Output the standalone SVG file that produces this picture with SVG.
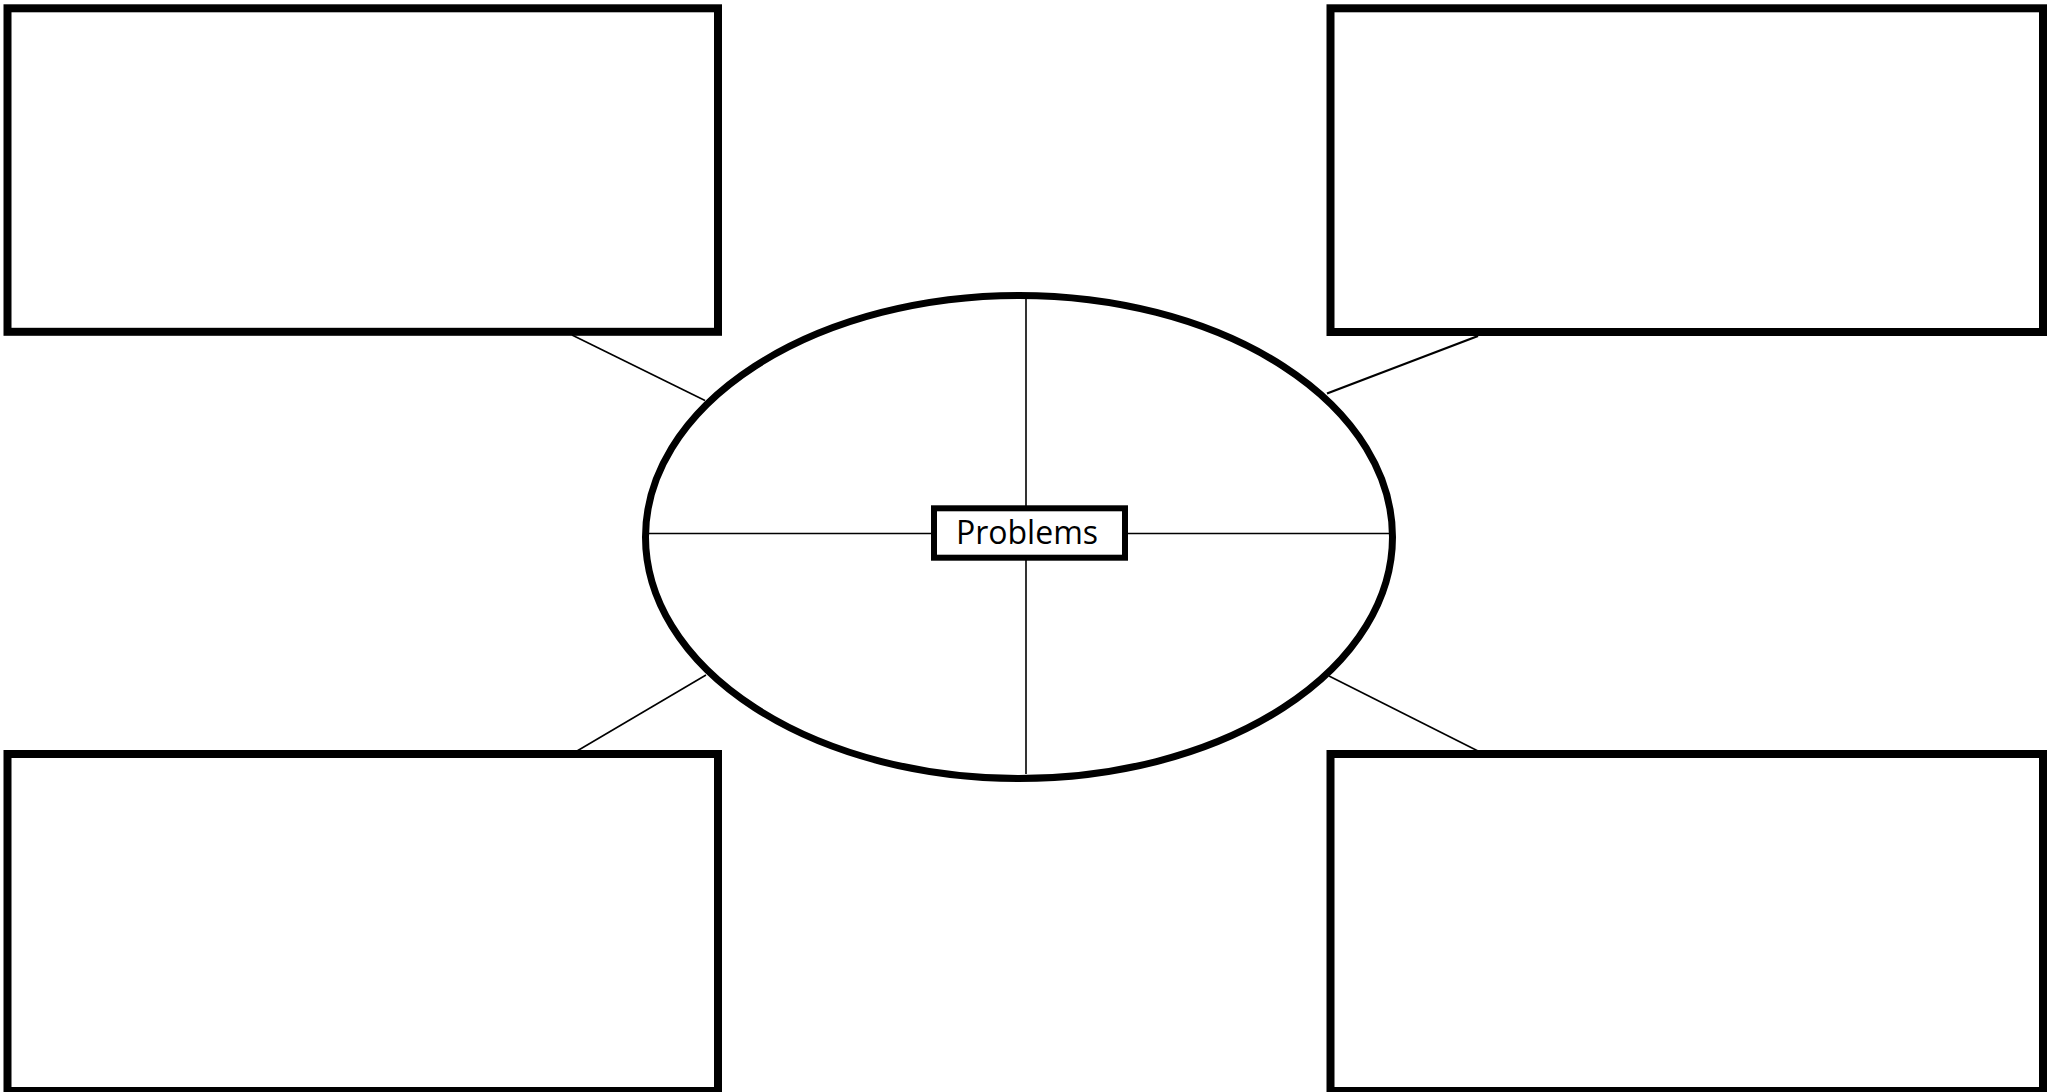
<svg xmlns="http://www.w3.org/2000/svg" width="2056" height="1092" viewBox="0 0 2056 1092">
<style>
.box{fill:#fff;stroke:#000;stroke-width:8}
.ell{fill:#fff;stroke:#000;stroke-width:7}
.ln{stroke:#000;stroke-width:1.6;fill:none}
.lbl{font-family:"Open Sans","Noto Sans",sans-serif;font-size:32px;fill:#000}
</style>
<rect width="2056" height="1092" fill="#fff"/>
<g id="box-top-left"><rect class="box" x="7.5" y="8.3" width="710.5" height="323.5"/></g>
<g id="box-top-right"><rect class="box" x="1330.5" y="8.3" width="712.5" height="323.7"/></g>
<g id="box-bottom-left"><rect class="box" x="7.5" y="754" width="710.5" height="337"/></g>
<g id="box-bottom-right"><rect class="box" x="1330.5" y="754" width="712.5" height="337"/></g>
<g id="connectors">
<line class="ln" x1="572" y1="335" x2="705" y2="400.5"/>
<line class="ln" x1="1478" y1="336" x2="1327" y2="393.5" style="stroke-width:2.4"/>
<line class="ln" x1="706" y1="675" x2="577" y2="751"/>
<line class="ln" x1="1329" y1="676" x2="1478" y2="751"/>
</g>
<g id="ellipse">
<ellipse class="ell" cx="1019" cy="537" rx="373.5" ry="241.5"/>
<line class="ln" x1="649" y1="533.5" x2="934" y2="533.5"/>
<line class="ln" x1="1125" y1="533.5" x2="1389" y2="533.5"/>
<line class="ln" x1="1026" y1="299" x2="1026" y2="508"/>
<line class="ln" x1="1026" y1="557" x2="1026" y2="774"/>
</g>
<g id="problems">
<rect x="934" y="508.3" width="191" height="49.4" fill="#fff" stroke="#000" stroke-width="6"/>
<text class="lbl" x="1027" y="543.5" text-anchor="middle">Problems</text>
</g>
</svg>
